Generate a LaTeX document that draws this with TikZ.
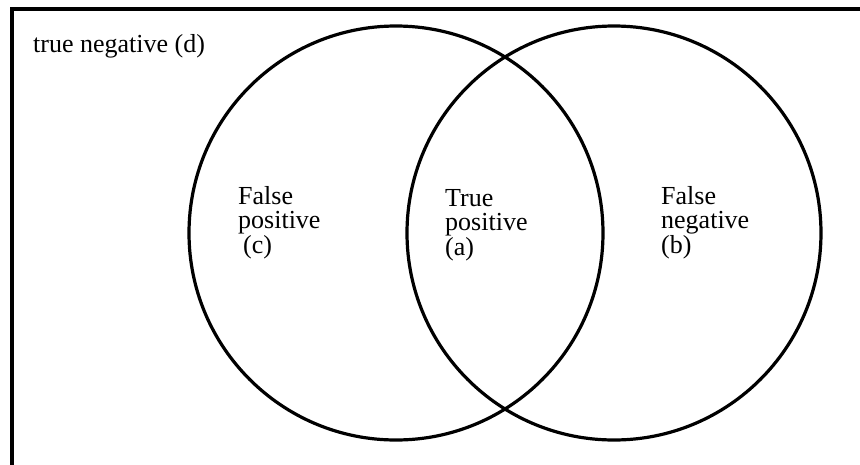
\documentclass[tikz,border=0pt]{standalone}
\usepackage{fontspec}
\setmainfont{Liberation Serif}
\begin{document}
\begin{tikzpicture}[x=1pt, y=-1pt,
			ring/.style={draw, circle, line width=3.2pt, minimum size=414pt, inner sep=0pt},
			lbl/.style={align=left, anchor=base west, inner sep=0pt, font=\fontsize{26}{24.5}\selectfont}]
			% Bildbereich
			\useasboundingbox (0,0) rectangle (860,464);
			\clip (0,0) rectangle (860,464);
			% Rahmen (Grundmenge)
			\draw[line width=3.2pt] (12,480) -- (12,9) -- (880,9);
			% Kreise
			\node[ring] (predset) at (396,233) {};
			\node[ring] (trueset) at (614,233) {};
			% Beschriftung (base = letzte Zeile)
			\node[lbl] (tn) at (33,52) {true negative (d)};
			\node[lbl] (fp) at (238,253) {False\\positive\\\hspace*{5pt}(c)};
			\node[lbl] (tp) at (445,255) {True\\positive\\(a)};
			\node[lbl] (fn) at (661,253) {False\\negative\\(b)};
		\end{tikzpicture}
\end{document}
